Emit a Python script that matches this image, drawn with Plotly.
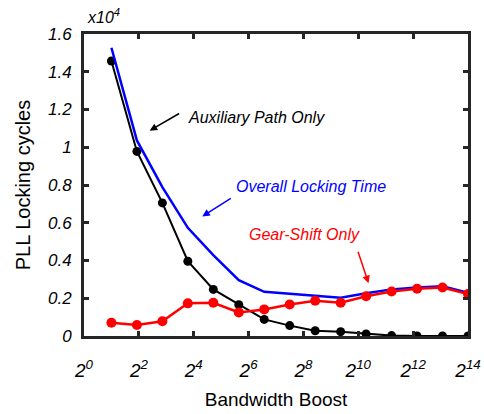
import plotly.graph_objects as go

# Bandwidth boost values (log2 spaced from 2^1 to 2^14)
boost = [2, 3.807, 7.246, 13.79, 26.25, 49.97, 95.1, 181.0, 344.6, 656.0,
         1248, 2376, 4522, 8608, 16384]
# Locking cycles, in units of 10^4
aux_only = [1.457, 0.978, 0.705, 0.396, 0.247, 0.166, 0.088, 0.055, 0.028,
            0.023, 0.011, 0.002, 0.0, 0.0, 0.0]
gear_only = [0.070, 0.058, 0.078, 0.173, 0.176, 0.125, 0.141, 0.167, 0.187,
             0.176, 0.211, 0.236, 0.250, 0.257, 0.222]
overall = [1.527, 1.036, 0.789, 0.573, 0.428, 0.296, 0.234, 0.225, 0.215,
           0.203, 0.226, 0.247, 0.257, 0.264, 0.229]

xtick_vals = [2 ** k for k in range(0, 15, 2)]
xtick_text = [f"2<sup>{k}</sup>" for k in range(0, 15, 2)]
ytick_vals = [0, 0.2, 0.4, 0.6, 0.8, 1.0, 1.2, 1.4, 1.6]
ytick_text = ["0", "0.2", "0.4", "0.6", "0.8", "1", "1.2", "1.4", "1.6"]

FONT = "Liberation Sans, Arial, sans-serif"
FRAME = "#262626"

fig = go.Figure()
fig.add_trace(go.Scatter(x=boost, y=aux_only, mode="lines+markers",
                         line=dict(color="black", width=2),
                         marker=dict(color="black", size=9)))
fig.add_trace(go.Scatter(x=boost, y=overall, mode="lines",
                         line=dict(color="#0000ff", width=2.5)))
fig.add_trace(go.Scatter(x=boost, y=gear_only, mode="lines+markers",
                         line=dict(color="#ff0000", width=2.5),
                         marker=dict(color="#ff0000", size=10)))

axis_common = dict(showline=True, mirror="ticks", linecolor=FRAME, linewidth=2.7,
                   ticks="inside", ticklen=5, tickwidth=2.5, tickcolor=FRAME,
                   showgrid=False, zeroline=False, automargin=False)

fig.update_xaxes(type="log", range=[0, 14 * 0.30103],
                 tickvals=xtick_vals, ticktext=xtick_text,
                 tickfont=dict(family=FONT, size=19, color="black", style="italic"),
                 ticklabelstandoff=15, ticklabeloverflow="allow",
                 title=dict(text="Bandwidth Boost", font=dict(family=FONT, size=19, color="black"),
                            standoff=14),
                 **axis_common)
fig.update_yaxes(range=[0, 1.6], tickvals=ytick_vals, ticktext=ytick_text,
                 tickfont=dict(family=FONT, size=17, color="black", style="italic"),
                 ticklabelstandoff=6,
                 title=dict(text="PLL Locking cycles", font=dict(family=FONT, size=20, color="black"),
                            standoff=13),
                 **axis_common)

ann_font = dict(family=FONT, size=16, style="italic")
annotations = [
    dict(text="x10<sup>4</sup>", x=0.003, y=1.0, xref="paper", yref="paper",
         xanchor="left", yanchor="bottom", yshift=6, showarrow=False,
         font=dict(family=FONT, size=16, color="black", style="italic")),
    dict(text="Auxiliary Path Only", x=0.4495, y=0.759, xref="paper", yref="paper",
         showarrow=False, font=dict(color="black", **ann_font)),
    dict(text="Overall Locking Time", x=0.591, y=0.495, xref="paper", yref="paper",
         showarrow=False, font=dict(color="#0000ff", **ann_font)),
    dict(text="Gear-Shift Only", x=0.724, y=0.337, xref="paper", yref="paper",
         showarrow=False, font=dict(color="#ff0000", **ann_font)),
    dict(text="", x=0.171, y=0.680, xref="paper", yref="paper", ax=31, ay=-18,
         showarrow=True, arrowhead=2, arrowsize=1, arrowwidth=1.5, arrowcolor="black"),
    dict(text="", x=0.308, y=0.396, xref="paper", yref="paper", ax=30, ay=-19,
         showarrow=True, arrowhead=2, arrowsize=1, arrowwidth=1.5, arrowcolor="#0000ff"),
    dict(text="", x=0.741, y=0.175, xref="paper", yref="paper", ax=-11, ay=-33,
         showarrow=True, arrowhead=2, arrowsize=1, arrowwidth=1.5, arrowcolor="#ff0000"),
]

fig.update_layout(width=484, height=414, showlegend=False,
                  margin=dict(l=84, r=16, t=34, b=78),
                  paper_bgcolor="white", plot_bgcolor="white",
                  annotations=annotations)

fig.write_html("out.html", config={"displayModeBar": False},
               post_script="document.body.style.margin='0';")
